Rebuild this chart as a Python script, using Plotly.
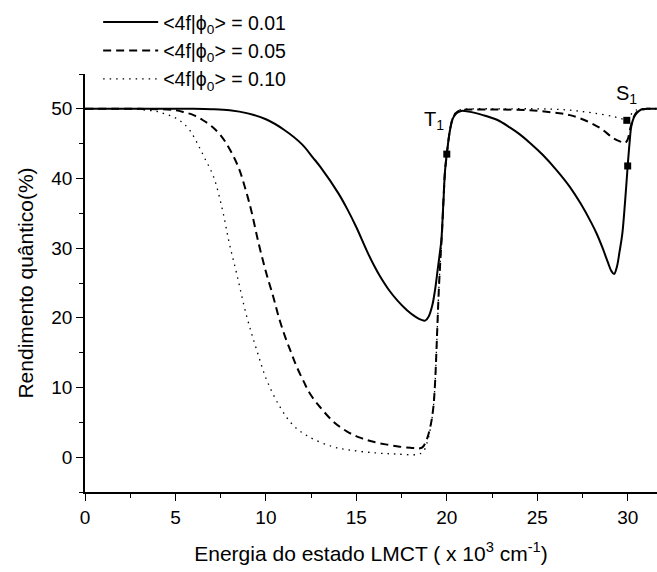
import plotly.graph_objects as go

# ---- data ----
x_001 = [0, 2, 4, 6, 7, 8, 9, 10, 11, 12, 12.6, 13, 14, 14.5, 15, 15.6, 16, 16.3, 16.8, 17.3, 17.8,
         18.3, 18.6, 18.8, 19.0, 19.2, 19.35, 19.5, 19.6, 19.7, 19.81, 19.9, 20.0, 20.18, 20.35, 20.55,
         20.8, 21.2, 22.0, 22.8, 23.5, 24.0, 24.6, 25.3, 26.1, 26.8, 27.4, 28.0, 28.3, 28.6, 28.9, 29.1,
         29.25, 29.4, 29.55, 29.7, 29.85, 30.0, 30.1, 30.2, 30.35, 30.5, 30.75, 31.05, 31.6]
y_001 = [50, 50, 50, 50, 49.95, 49.8, 49.35, 48.5, 47.0, 44.9, 43.0, 41.7, 37.9, 35.6, 33.0, 29.5, 27.4,
         26.0, 24.0, 22.4, 21.1, 20.1, 19.7, 19.6, 20.2, 21.8, 24.0, 27.0, 29.0, 31.2, 36.5, 41.0, 43.5,
         47.0, 48.7, 49.4, 49.7, 49.6, 49.1, 48.4, 47.3, 46.4, 45.1, 43.4, 41.1, 38.8, 36.4, 33.6, 32.0,
         30.1, 28.0, 26.7, 26.3, 27.3, 29.5, 32.0, 36.5, 41.8, 45.0, 47.5, 48.8, 49.4, 49.9, 50.0, 50.0]

x_005 = [0, 3, 4, 5, 5.5, 6, 6.5, 7, 7.5, 8, 8.5, 8.9, 9.2, 9.58, 10.0, 10.41, 10.7, 11.06, 11.4, 11.7,
         12.1, 12.44, 12.99, 13.73, 14.47, 15.2, 15.94, 16.7, 17.4, 18.0, 18.4, 18.65, 18.9, 19.1, 19.25,
         19.35, 19.45, 19.55, 19.65, 19.73, 19.81, 19.9, 20.0, 20.18, 20.35, 20.55, 20.8, 21.5, 22.8,
         24.6, 26.1, 26.8, 27.6, 28.5, 29.2, 29.6, 29.85, 30.0, 30.1, 30.2, 30.35, 30.5, 30.75, 31.05, 31.6]
y_005 = [50, 50, 49.95, 49.8, 49.5, 49.1, 48.4, 47.5, 46.2, 44.2, 41.5, 38.2, 35.3, 30.9, 26.6, 23.0,
         20.2, 17.3, 15.0, 13.0, 10.8, 9.1, 7.2, 5.1, 3.7, 2.8, 2.2, 1.8, 1.5, 1.35, 1.25, 1.4, 2.6, 4.5,
         7.0, 10.6, 16.8, 23.5, 28.5, 32.0, 36.5, 41.0, 43.5, 47.0, 48.8, 49.5, 49.8, 49.9, 49.9, 49.8,
         49.4, 49.1, 48.4, 47.2, 45.8, 45.3, 45.1, 45.6, 46.7, 47.8, 48.9, 49.5, 49.9, 50.0, 50.0]

x_010 = [0, 2, 3, 4, 4.5, 5, 5.4, 5.8, 6.2, 6.6, 7.1, 7.6, 7.96, 8.38, 8.94, 9.49, 10.04, 10.78, 11.5,
         12.4, 13.7, 14.7, 16.1, 17.2, 18.4, 18.7, 18.9, 19.1, 19.25, 19.35, 19.45, 19.55, 19.65, 19.73,
         19.81, 19.9, 20.0, 20.18, 20.35, 20.55, 20.8, 21.5, 23.0, 25.0, 26.3, 27.2, 28.1, 29.2, 29.75,
         29.95, 30.1, 30.25, 30.45, 30.75, 31.6]
y_010 = [50, 50, 49.9, 49.6, 49.2, 48.7, 48.0, 46.9, 45.1, 43.0, 40.3, 35.5, 30.9, 26.4, 20.2, 15.4,
         11.1, 7.2, 4.6, 2.9, 1.5, 1.0, 0.6, 0.45, 0.4, 0.8, 2.0, 4.2, 7.0, 10.6, 16.8, 23.5, 28.5, 32.0,
         36.5, 41.0, 43.5, 47.0, 48.9, 49.6, 49.9, 50.0, 50.0, 50.0, 49.9, 49.7, 49.4, 48.9, 48.5, 48.35,
         48.8, 49.4, 49.8, 50.0, 50.0]

# state markers (T1 on the steep rise near 20, S1 near 30)
mark_x = [20.0, 29.95, 30.0]
mark_y = [43.5, 48.35, 41.8]

names = ["<4f|\u03d5<sub>0</sub>> = 0.01", "<4f|\u03d5<sub>0</sub>> = 0.05", "<4f|\u03d5<sub>0</sub>> = 0.10"]

fig = go.Figure()
fig.add_trace(go.Scatter(x=x_001, y=y_001, mode="lines", name=names[0], line_shape="spline",
                         line=dict(color="black", width=2, dash="solid")))
fig.add_trace(go.Scatter(x=x_005, y=y_005, mode="lines", name=names[1], line_shape="spline",
                         line=dict(color="black", width=2, dash="8px,5px")))
fig.add_trace(go.Scatter(x=x_010, y=y_010, mode="lines", name=names[2], line_shape="spline",
                         line=dict(color="black", width=1.3, dash="1.5px,5px")))
fig.add_trace(go.Scatter(x=mark_x, y=mark_y, mode="markers", showlegend=False,
                         marker=dict(symbol="square", size=7, color="black")))

fig.add_annotation(x=18.62, y=48.3, xref="x", yref="y", text="T<sub>1</sub>", showarrow=False,
                   xanchor="left", yanchor="middle", font=dict(size=20, color="black"))
fig.add_annotation(x=29.25, y=52.0, xref="x", yref="y", text="S<sub>1</sub>", showarrow=False,
                   xanchor="left", yanchor="middle", font=dict(size=20, color="black"))

axis_common = dict(showgrid=False, zeroline=False, showline=True, linecolor="black", linewidth=1.5,
                   ticks="outside", ticklen=7, tickwidth=1.3, tickcolor="black",
                   tickfont=dict(size=19, color="black"))

fig.update_xaxes(range=[0, 31.62], dtick=5, tick0=0,
                 minor=dict(ticks="outside", ticklen=4, dtick=2.5, tick0=0, tickcolor="black", tickwidth=1.1),
                 title=dict(text="Energia do estado LMCT ( x 10<sup>3</sup> cm<sup>-1</sup>)",
                            font=dict(size=21, color="black"), standoff=20),
                 **axis_common)
fig.update_yaxes(range=[-5, 55], dtick=10, tick0=0,
                 minor=dict(ticks="outside", ticklen=4, dtick=5, tick0=0, tickcolor="black", tickwidth=1.1),
                 title=dict(text="Rendimento quântico(%)", font=dict(size=21, color="black"), standoff=12),
                 **axis_common)

fig.update_layout(
    width=657, height=572,
    margin=dict(l=85, r=0, t=74, b=80),
    plot_bgcolor="white", paper_bgcolor="white",
    font=dict(family="Liberation Sans, Arial, sans-serif", color="black"),
    showlegend=True,
    legend=dict(x=0.023, y=1.17, xanchor="left", yanchor="top", bgcolor="rgba(0,0,0,0)",
                itemwidth=55, font=dict(size=19.5, color="black"), tracegroupgap=0),
)

fig.write_html("out.html")
